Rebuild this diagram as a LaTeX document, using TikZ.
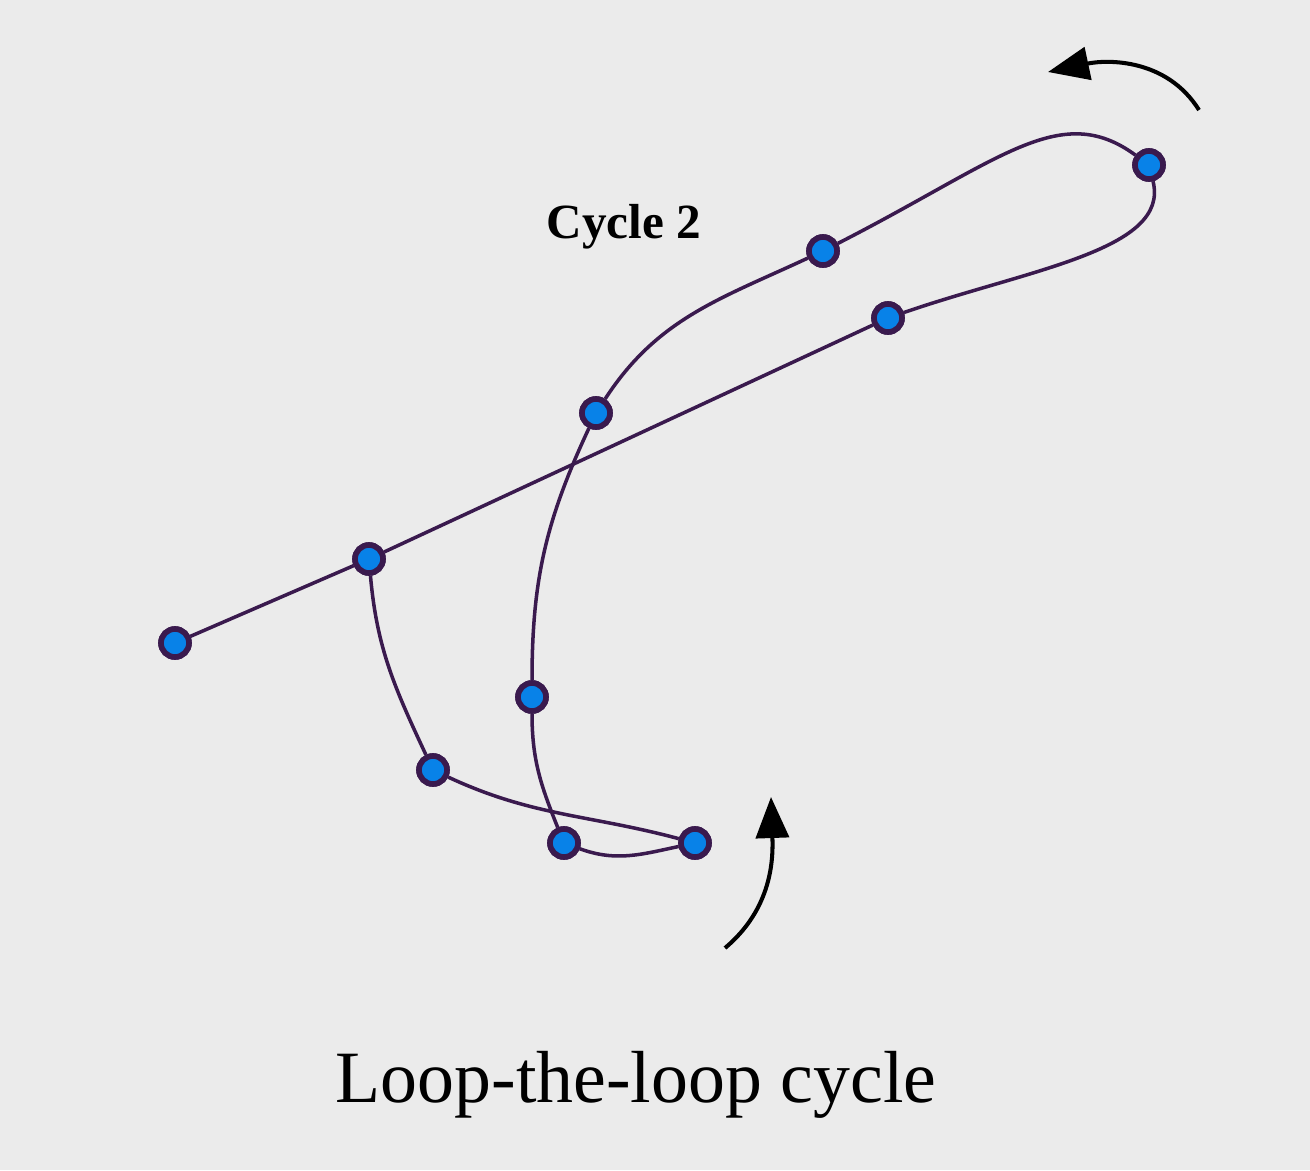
\documentclass[tikz,border=0pt]{standalone}
\usepackage{fontspec}
\setmainfont{Liberation Serif}
\usetikzlibrary{arrows.meta}
\definecolor{bgc}{RGB}{235,235,235}
\definecolor{pathc}{RGB}{58,26,78}
\definecolor{dotc}{RGB}{8,130,232}
\tikzset{
  pt/.style={circle, fill=dotc, draw=pathc, line width=3.2pt, minimum size=0.56cm, inner sep=0pt},
  loopline/.style={draw=pathc, line width=2pt},
  turnarrow/.style={draw=black, line width=2.3pt, -{Triangle[length=0.82cm, width=0.66cm]}}
}
\begin{document}
\begin{tikzpicture}[x=0.02cm, y=0.02cm]
\fill[bgc] (0,0) rectangle (1310,-1170);
\useasboundingbox (0,0) rectangle (1310,-1170);

% nodes
\node[pt] (A) at (175,-643) {};
\node[pt] (B) at (369,-559) {};
\node[pt] (C) at (596,-413) {};
\node[pt] (D) at (823,-251) {};
\node[pt] (E) at (1149,-165) {};
\node[pt] (F) at (888,-318) {};
\node[pt] (G) at (532,-697) {};
\node[pt] (H) at (433,-770) {};
\node[pt] (I) at (564,-843) {};
\node[pt] (J) at (695,-843) {};

% path
\draw[loopline] (A) -- (B);
\draw[loopline] (B) -- (F);
\draw[loopline] (F) .. controls +(142,49) and +(21,-85) .. (E);
\draw[loopline] (E) .. controls +(-89,65) and +(178,91) .. (D);
\draw[loopline] (D) to[out=205, in=57] (C);
\draw[loopline] (C) to[out=245, in=90] (G);
\draw[loopline] (G) to[out=-90, in=112] (I);
\draw[loopline] (I) to[out=-20, in=-168] (J);
\draw[loopline] (J) to[out=165, in=-25] (H);
\draw[loopline] (H) to[out=115, in=-85] (B);

% redraw nodes on top
\foreach \p in {{175,-643},{369,-559},{596,-413},{823,-251},{1149,-165},{888,-318},{532,-697},{433,-770},{564,-843},{695,-843}}
  \node[pt] at (\p) {};

% rotation arrows
\coordinate (t1) at (1199,-110);
\coordinate (t2) at (1048,-72);
\draw[turnarrow] (t1) to[out=122, in=12] (t2);
\coordinate (b1) at (725,-948);
\coordinate (b2) at (771,-797);
\draw[turnarrow] (b1) to[out=40, in=-88] (b2);

% labels
\node[anchor=base, font=\fontsize{28}{30}\selectfont\bfseries, inner sep=0pt] (cyc) at (624,-238) {Cycle 2};
\node[anchor=base, font=\fontsize{42}{46}\selectfont, inner sep=0pt] (title) at (636,-1102) {Loop-the-loop cycle};
\end{tikzpicture}
\end{document}
